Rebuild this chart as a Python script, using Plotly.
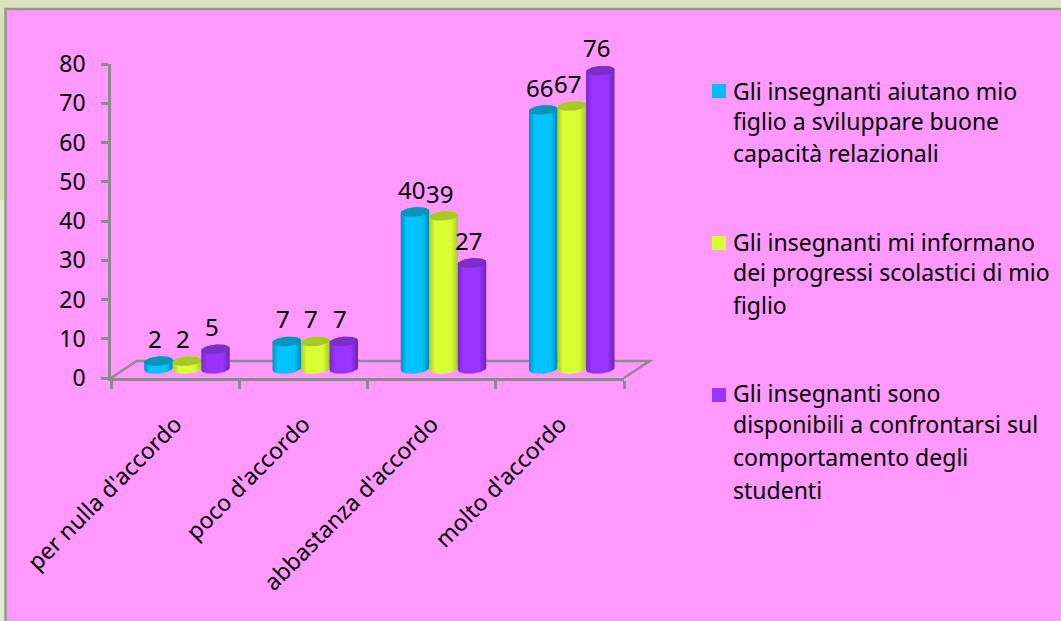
import numpy as np
import plotly.graph_objects as go

W, H = 1061, 621

categories = ["per nulla d'accordo", "poco d'accordo", "abbastanza d'accordo", "molto d'accordo"]
insegnanti_aiutano = [2, 7, 40, 66]
insegnanti_informano = [2, 7, 39, 67]
insegnanti_disponibili = [5, 7, 27, 76]
y_ticks = [0, 10, 20, 30, 40, 50, 60, 70, 80]

legend_aiutano = ["Gli insegnanti aiutano mio", "figlio a sviluppare buone", "capacità relazionali"]
legend_informano = ["Gli insegnanti mi informano", "dei progressi scolastici di mio", "figlio"]
legend_disponibili = ["Gli insegnanti sono", "disponibili a confrontarsi sul", "comportamento degli", "studenti"]

FONT = "Noto Sans"
GREY = "#8c8c8c"

# side shading, top ellipse colour
cyan = ([[0, "#0090bd"], [0.2, "#00c4ff"], [0.75, "#00c4ff"], [1, "#0088b0"]], "#0a93bb")
green = ([[0, "#a9cc22"], [0.2, "#d8ff33"], [0.75, "#d8ff33"], [1, "#a9cc22"]], "#a8c828")
purple = ([[0, "#7a28cc"], [0.2, "#9933ff"], [0.75, "#9933ff"], [1, "#6f24b8"]], "#7b2fc4")

BASE = 2.3    # the cylinders stand a little inside the floor
RX = 0.111
RY = 1.2
TILT = 0.28
X_MAX, Y_MAX = 4, 80
LEFT, RIGHT, TOP, BOTTOM = 111, 624, 64, 378


def paper_x(px):
    return (px - LEFT) / (RIGHT - LEFT)


def paper_y(px):
    return (BOTTOM - px) / (BOTTOM - TOP)


fig = go.Figure()


def cylinder(x_c, value, colors):
    t = np.linspace(0, np.pi, 30)
    dx = RX * np.cos(t)
    top = BASE + value
    # body outline: top back edge of the ellipse, then the front of the base
    xs = np.concatenate([x_c + dx, x_c - dx])
    ys = np.concatenate([
        top + RY * np.sin(t) + TILT * dx / RX,
        BASE - RY * np.sin(t) - TILT * dx / RX,
    ])
    fig.add_trace(go.Scatter(
        x=xs, y=ys, mode="lines", fill="toself", line=dict(width=0),
        fillgradient=dict(type="horizontal", colorscale=colors[0]),
        hoverinfo="skip", showlegend=False,
    ))
    t2 = np.linspace(0, 2 * np.pi, 60)
    dx2 = RX * np.cos(t2)
    fig.add_trace(go.Scatter(
        x=x_c + dx2, y=top + RY * np.sin(t2) + TILT * dx2 / RX,
        mode="lines", fill="toself", fillcolor=colors[1], line=dict(width=0),
        hoverinfo="skip", showlegend=False,
    ))


series = [
    (insegnanti_aiutano, cyan, 0.37),
    (insegnanti_informano, green, 0.593),
    (insegnanti_disponibili, purple, 0.815),
]

for values, colors, offset in series:
    for i, v in enumerate(values):
        cylinder(i + offset, v, colors)

annotations = []

# value labels: paper refs, because 76 + offset falls above the axis range and would be dropped
for values, colors, offset in series:
    for i, v in enumerate(values):
        annotations.append(dict(
            text=str(v), xref="paper", yref="paper", showarrow=False,
            x=(i + offset - 0.03) / X_MAX, y=(v + 8.1) / Y_MAX,
            xanchor="center", yanchor="middle",
            font=dict(family=FONT, size=24, color="black"),
        ))

# page background, pink panel
shapes = [
    dict(type="rect", xref="paper", yref="paper", x0=paper_x(0), x1=paper_x(W),
         y0=paper_y(H), y1=paper_y(0), fillcolor="#e4eacd", line_width=0, layer="below"),
    dict(type="rect", xref="paper", yref="paper", x0=paper_x(0), x1=paper_x(W),
         y0=paper_y(200), y1=paper_y(0), fillcolor="#d9e1bd", line_width=0, layer="below"),
    dict(type="rect", xref="paper", yref="paper", x0=paper_x(5.5), x1=paper_x(W + 5),
         y0=paper_y(H + 5), y1=paper_y(9), fillcolor="#ff99ff",
         line=dict(color="#8f9a88", width=2.5), layer="below"),
]

# floor of the 3D box, paper refs so the right corner is not clipped
fx, fy = 0.2 / X_MAX, 4.33 / Y_MAX
shapes.append(dict(
    type="path", xref="paper", yref="paper", layer="below", line=dict(color=GREY, width=2.5),
    path=f"M 0 0 L {fx} {fy} L {1 + fx} {fy} L 1 0",
))

# legend
legend_blocks = [
    (legend_aiutano, "#00bdf2", 91, [91, 121, 153]),
    (legend_informano, "#d8ff33", 243, [242, 272, 305]),
    (legend_disponibili, "#9933ff", 395, [393, 424, 457, 490]),
]
for lines, color, sq_y, line_ys in legend_blocks:
    shapes.append(dict(
        type="rect", xref="paper", yref="paper", line_width=0, fillcolor=color,
        x0=paper_x(712), x1=paper_x(726),
        y0=paper_y(sq_y + 7), y1=paper_y(sq_y - 7),
    ))
    for line, ly in zip(lines, line_ys):
        annotations.append(dict(
            text=line, xref="paper", yref="paper", showarrow=False,
            x=paper_x(731), y=paper_y(ly), xanchor="left", yanchor="middle",
            font=dict(family=FONT, size=23, color="black"),
        ))

fig.update_layout(
    width=W, height=H,
    margin=dict(l=LEFT, r=W - RIGHT, t=TOP, b=H - BOTTOM),
    paper_bgcolor="#d9e1bd",
    plot_bgcolor="rgba(0,0,0,0)",
    showlegend=False,
    shapes=shapes,
    annotations=annotations,
    font=dict(family=FONT, size=23, color="black"),
    xaxis=dict(
        range=[0, X_MAX], tickvals=[0.5, 1.5, 2.5, 3.5], ticktext=categories,
        tickangle=-45, ticks="", ticklabelstandoff=21, showgrid=False, zeroline=False,
        showline=True, linecolor=GREY, linewidth=2.5,
        minor=dict(tickvals=[0, 1, 2, 3, 4], ticks="outside", ticklen=8, tickcolor=GREY,
                   tickwidth=2.5, showgrid=False),
    ),
    yaxis=dict(
        range=[0, Y_MAX], tickvals=y_ticks, ticks="outside", ticklen=7, tickcolor=GREY,
        tickwidth=2.5, ticklabelstandoff=11, showgrid=False, zeroline=False,
        showline=True, linecolor=GREY, linewidth=2.5,
    ),
)

# the page's default body margin would push the fixed-size figure off the corner
fig.write_html("out.html", post_script="document.body.style.margin='0';",
               config=dict(displayModeBar=False))
